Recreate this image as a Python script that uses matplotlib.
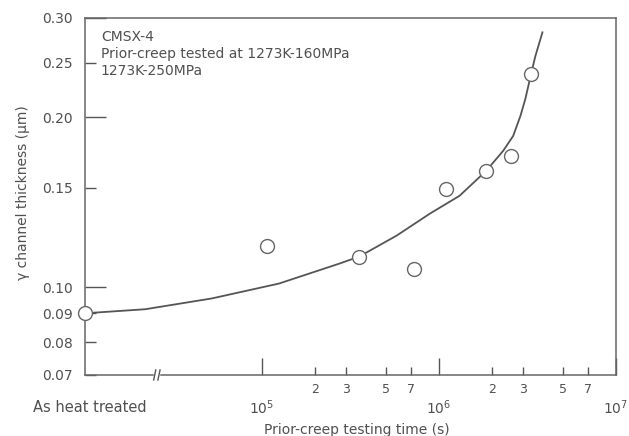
import matplotlib
matplotlib.use("Agg")
import matplotlib.pyplot as plt
from matplotlib.ticker import FixedLocator, FixedFormatter

plt.rcParams['font.family'] = ['DejaVu Sans']

# measured points (time in s, gamma channel thickness in um)
point_time = [1e4, 1.07e5, 3.55e5, 7.2e5, 1.10e6, 1.85e6, 2.56e6, 3.33e6]
point_thick = [0.09, 0.1186, 0.1134, 0.1076, 0.1495, 0.1608, 0.171, 0.2385]

# trend curve
curve_time = [1e4, 2.19e4, 5.2e4, 1.25e5, 2.74e5, 3.55e5, 5.77e5, 8.9e5,
              1.31e6, 1.85e6, 2.31e6, 2.63e6, 2.89e6, 3.08e6, 3.29e6,
              3.51e6, 3.85e6]
curve_thick = [0.09, 0.0915, 0.0956, 0.1016, 0.1102, 0.1134, 0.1235, 0.1351,
               0.1453, 0.1608, 0.1745, 0.1854, 0.2011, 0.2154, 0.2356,
               0.2566, 0.2828]

y_major = [0.10, 0.20, 0.30]
y_major_lbl = ['0.10', '0.20', '0.30']
y_minor = [0.07, 0.08, 0.09, 0.15, 0.25]
y_minor_lbl = ['0.07', '0.08', '0.09', '0.15', '0.25']

x_major = [1e5, 1e6, 1e7]
x_major_lbl = ['$10^5$', '$10^6$', '$10^7$']
x_minor = [2e5, 3e5, 5e5, 7e5, 2e6, 3e6, 5e6, 7e6]
x_minor_lbl = ['2', '3', '5', '7', '2', '3', '5', '7']

grey = '#555555'
txt = '#505050'

fig = plt.figure(figsize=(6.29, 4.36), dpi=100)
ax = fig.add_axes([0.135, 0.140, 0.844, 0.819])

ax.plot(curve_time, curve_thick, color=grey, lw=1.3, solid_joinstyle='round',
        zorder=2, clip_on=False)
ax.plot(point_time, point_thick, 'o', ms=10, mfc='white', mec='#666666',
        mew=1.0, zorder=3, clip_on=False)

ax.set_xscale('log')
ax.set_yscale('log')
ax.set_xlim(1e4, 1e7)
ax.set_ylim(0.07, 0.30)

ax.yaxis.set_major_locator(FixedLocator(y_major))
ax.yaxis.set_major_formatter(FixedFormatter(y_major_lbl))
ax.yaxis.set_minor_locator(FixedLocator(y_minor))
ax.yaxis.set_minor_formatter(FixedFormatter(y_minor_lbl))
ax.xaxis.set_major_locator(FixedLocator(x_major))
ax.xaxis.set_major_formatter(FixedFormatter(x_major_lbl))
ax.xaxis.set_minor_locator(FixedLocator(x_minor))
ax.xaxis.set_minor_formatter(FixedFormatter(x_minor_lbl))

ax.tick_params(axis='y', which='major', direction='in', length=15, width=1.0,
               pad=8.5, labelsize=10, colors=grey, labelcolor=txt)
ax.tick_params(axis='y', which='minor', direction='in', length=8, width=1.0,
               pad=8.5, labelsize=10, colors=grey, labelcolor=txt)
ax.tick_params(axis='x', which='major', direction='in', length=12, width=1.0,
               pad=17, labelsize=10, colors=grey, labelcolor=txt)
ax.tick_params(axis='x', which='minor', direction='in', length=6, width=1.0,
               pad=5.5, labelsize=9, colors=grey, labelcolor=txt)

for s in ax.spines.values():
    s.set_color('#666666')
    s.set_linewidth(1.1)

ax.set_ylabel('\u03b3 channel thickness (\u03bcm)', fontsize=10, color=txt)
ax.yaxis.set_label_coords(-0.104, 0.51)
ax.set_xlabel('Prior-creep testing time (s)', fontsize=10, color=txt)
ax.xaxis.set_label_coords(0.513, -0.135)

ax.text(0.01, -0.09, 'As heat treated', transform=ax.transAxes,
        fontsize=10.5, color=txt, ha='center', va='center')

ax.text(0.03, 0.965, 'CMSX-4\nPrior-creep tested at 1273K-160MPa\n1273K-250MPa',
        transform=ax.transAxes, fontsize=10, color=txt, ha='left', va='top',
        linespacing=1.25)

# axis break mark
ax.plot([0.1325, 0.1385], [0.0, 0.0], transform=ax.transAxes, color='white',
        lw=2.5, clip_on=False, zorder=4)
for xb in (0.1315, 0.1395):
    ax.plot([xb - 0.002, xb + 0.002], [-0.014, 0.014], transform=ax.transAxes,
            color=grey, lw=1.0, clip_on=False, zorder=5)

fig.savefig('out.png', dpi=100)
